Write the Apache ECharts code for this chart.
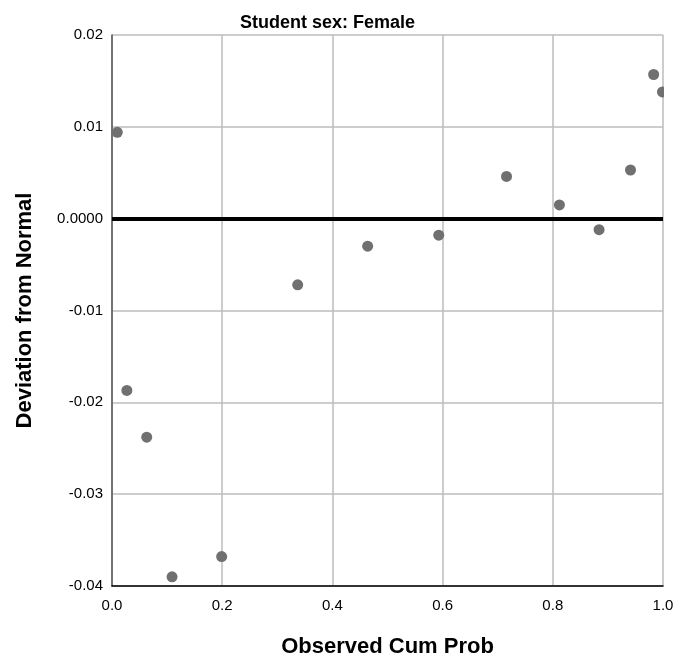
<!DOCTYPE html>
<html>
<head>
<meta charset="utf-8">
<script src="https://cdn.jsdelivr.net/npm/echarts@6/dist/echarts.min.js"></script>
<style>
html,body{margin:0;padding:0;background:#fff;}
#chart{width:678px;height:663px;}
</style>
</head>
<body>
<div id="chart"></div>
<script>
const titleText = "Student sex: Female";
const xAxisName = "Observed Cum Prob";
const yAxisName = "Deviation from Normal";
const observedCumProb = [0.0096, 0.027, 0.063, 0.109, 0.199, 0.337, 0.464, 0.593, 0.716, 0.812, 0.884, 0.941, 0.983, 0.999];
const deviation = [0.0094, -0.0187, -0.0238, -0.0390, -0.0368, -0.0072, -0.0030, -0.0018, 0.0046, 0.0015, -0.0012, 0.0053, 0.0157, 0.0138];
const referenceValue = 0;

const chart = echarts.init(document.getElementById('chart'), null, {renderer: 'canvas'});
const fontFam = '"Liberation Sans", Arial, sans-serif';
chart.setOption({
  animation: false,
  backgroundColor: '#ffffff',
  title: {
    text: titleText,
    left: 235, top: 9,
    textStyle: {fontFamily: fontFam, fontSize: 18, fontWeight: 'bold', color: '#000'}
  },
  grid: {left: 112, right: 15, top: 35, bottom: 77, containLabel: false},
  xAxis: {
    type: 'value', min: 0, max: 1, interval: 0.2,
    name: xAxisName, nameLocation: 'middle', nameGap: 50,
    nameTextStyle: {fontFamily: fontFam, fontSize: 22, fontWeight: 'bold', color: '#000'},
    axisLine: {show: true, onZero: false, lineStyle: {color: '#000', width: 1.5}},
    axisTick: {show: false},
    axisLabel: {fontFamily: fontFam, fontSize: 15, color: '#000', margin: 12,
      formatter: v => v.toFixed(1)},
    splitLine: {show: true, lineStyle: {color: '#bdbdbd', width: 1.5}}
  },
  yAxis: {
    type: 'value', min: -0.04, max: 0.02, interval: 0.01,
    name: yAxisName, nameLocation: 'middle', nameGap: 76, nameRotate: 90,
    nameTextStyle: {fontFamily: fontFam, fontSize: 22, fontWeight: 'bold', color: '#000'},
    axisLine: {show: true, onZero: false, lineStyle: {color: '#555', width: 1.5}},
    axisTick: {show: false},
    axisLabel: {fontFamily: fontFam, fontSize: 15, color: '#000', margin: 9,
      formatter: v => Math.abs(v) < 1e-9 ? '0.0000' : v.toFixed(2)},
    splitLine: {show: true, lineStyle: {color: '#bdbdbd', width: 1.5}}
  },
  graphic: [{
    type: 'rect', left: 664, top: 36, z: 100, silent: true,
    shape: {width: 14, height: 548},
    style: {fill: '#ffffff'}
  }],
  series: [{
    type: 'scatter',
    data: observedCumProb.map((x, i) => [x, deviation[i]]),
    symbol: 'circle', symbolSize: 11,
    itemStyle: {color: '#707070', opacity: 1},
    clip: true,
    z: 3,
    markLine: {
      silent: true, symbol: 'none', label: {show: false},
      lineStyle: {color: '#000', width: 4, type: 'solid'},
      data: [{yAxis: referenceValue}],
      z: 2
    }
  }]
});
</script>
</body>
</html>
